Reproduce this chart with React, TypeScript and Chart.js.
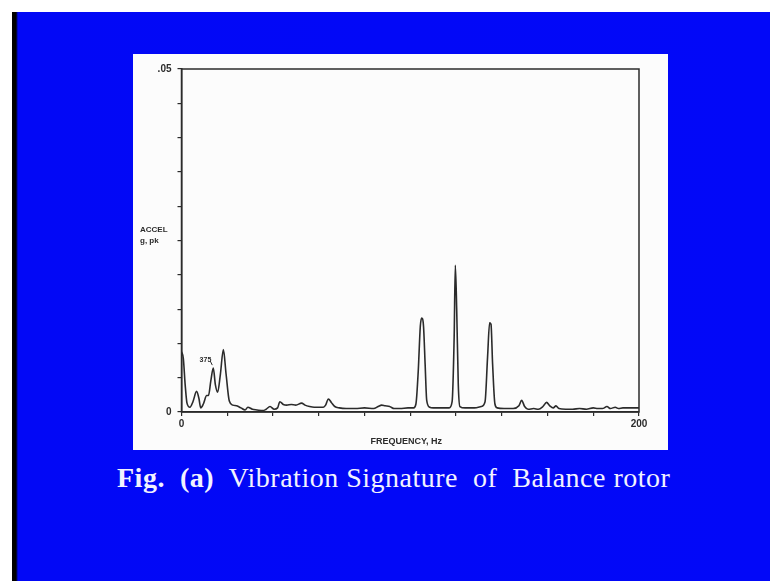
import React, { useEffect, useRef } from "react";
import { Chart, registerables } from "chart.js";

Chart.register(...registerables);

// Frequency (Hz) and acceleration (g, pk)
const freqHz: number[] = [
  0, 0.8, 1.6, 2.4, 3.7, 5, 6.6, 7.6, 8.4, 9.6, 11, 11.8, 12.8, 13.9, 14.8, 15.8, 17, 18.3, 19.5, 20.9, 22.5, 24.1,
  26, 27.8, 29, 31, 33, 35.6, 37, 38.7, 40.5, 42, 43, 44.5, 46, 48, 50, 52.5, 54, 56, 58, 60.5, 62, 63, 64.2, 65.5,
  67, 69, 72, 76, 80, 84, 86, 87.5, 89, 91, 93, 95.5, 99, 101.5,
  102.5, 103.5, 104.4, 105, 105.8, 106.5, 107.2, 108.5, 110, 114, 117,
  118.3, 119.2, 119.7, 120.3, 121, 121.7, 124, 128, 131, 132.7, 133.8, 134.7, 135.3, 136, 137, 138, 141, 145,
  147.5, 148.7, 150, 151.5, 154, 156, 158, 159.6, 161, 162.5, 163.7, 165, 168, 171, 174, 177, 180, 182, 184,
  186, 187.5, 189.6, 191, 193, 196, 200,
];
const accelG: number[] = [
  0.0088, 0.0078, 0.004, 0.0013, 0.0007, 0.0015, 0.003, 0.002, 0.0006, 0.0012, 0.0024, 0.0024, 0.0045, 0.0064, 0.004,
  0.0029, 0.0055, 0.0091, 0.0055, 0.0016, 0.001, 0.0009,
  0.0006, 0.0003, 0.0007, 0.0004, 0.0003, 0.0002, 0.0004, 0.0008, 0.0004, 0.0006, 0.0015, 0.0011, 0.001, 0.0011,
  0.001, 0.0013, 0.001, 0.0008, 0.0007, 0.0007, 0.0007, 0.001, 0.0019, 0.0014,
  0.0008, 0.0006, 0.0005, 0.0005, 0.0006, 0.0005, 0.0008, 0.001, 0.0009, 0.0008, 0.0005, 0.0005, 0.0006, 0.0006,
  0.0012, 0.006, 0.0125, 0.0137, 0.0125, 0.007, 0.0017, 0.0007, 0.0006, 0.0006, 0.0006,
  0.0015, 0.011, 0.0214, 0.015, 0.004, 0.0008, 0.0006, 0.0006, 0.0008, 0.0015, 0.008, 0.013, 0.0128, 0.007, 0.0012,
  0.0006, 0.0005, 0.0005,
  0.0009, 0.0017, 0.0008, 0.0004, 0.0005, 0.0004, 0.0008, 0.0014, 0.0009, 0.0006, 0.0009, 0.0005, 0.0004, 0.0004,
  0.0005, 0.0004, 0.0006, 0.0005, 0.0005,
  0.0008, 0.0005, 0.0007, 0.0005, 0.0006, 0.0006, 0.0006,
];

const xMin = 0;
const xMax = 200;
const xStep = 20;
const yMin = 0;
const yMax = 0.05;
const yStep = 0.005;
const xTickLabels: { value: number; label: string }[] = [
  { value: 0, label: "0" },
  { value: 200, label: "200" },
];
const yTickLabels: { value: number; label: string }[] = [
  { value: 0, label: "0" },
  { value: 0.05, label: ".05" },
];
const yTitleLines: string[] = ["ACCEL", "g, pk"];
const xTitle = "FREQUENCY, Hz";
const peakNote = { freq: 13.9, accel: 0.0064, text: "375" };
const caption = { bold: "Fig.  (a)", rest: "  Vibration Signature  of  Balance rotor" };

const INK = "#2b2b2b";

const framePlugin = {
  id: "frame",
  afterDraw(chart: any) {
    const { ctx, chartArea: a, scales } = chart;
    ctx.save();
    ctx.strokeStyle = INK;
    ctx.lineWidth = 1.5;
    ctx.strokeRect(a.left, a.top, a.right - a.left, a.bottom - a.top);

    ctx.fillStyle = INK;
    ctx.textBaseline = "middle";
    ctx.textAlign = "left";
    ctx.font = "bold 8px 'Liberation Sans', Arial, sans-serif";
    ctx.fillText(yTitleLines[0], 7, 175.5);
    ctx.fillText(yTitleLines[1], 7, 187);

    ctx.textAlign = "center";
    ctx.font = "bold 9px 'Liberation Sans', Arial, sans-serif";
    ctx.fillText(xTitle, (a.left + a.right) / 2 - 4, a.bottom + 30);

    const px = scales.x.getPixelForValue(peakNote.freq);
    const py = scales.y.getPixelForValue(peakNote.accel);
    ctx.font = "bold 7px 'Liberation Sans', Arial, sans-serif";
    ctx.textAlign = "right";
    ctx.fillText(peakNote.text, px - 2, py - 8);
    ctx.lineWidth = 1;
    ctx.beginPath();
    ctx.moveTo(px - 3, py - 7);
    ctx.lineTo(px - 1, py - 3);
    ctx.stroke();
    ctx.restore();
  },
};

export default function App() {
  const ref = useRef<HTMLCanvasElement | null>(null);

  useEffect(() => {
    if (!ref.current) return;
    const points = freqHz.map((f, i) => ({ x: f, y: accelG[i] }));
    const chart = new Chart(ref.current, {
      type: "line",
      data: {
        datasets: [
          {
            data: points,
            borderColor: INK,
            borderWidth: 1.6,
            pointRadius: 0,
            cubicInterpolationMode: "monotone",
            fill: false,
          },
        ],
      },
      options: {
        animation: false,
        responsive: false,
        events: [],
        layout: { padding: { top: 15, right: 29, left: 0, bottom: 0 } },
        plugins: { legend: { display: false }, tooltip: { enabled: false }, title: { display: false } },
        scales: {
          x: {
            type: "linear",
            min: xMin,
            max: xMax,
            afterFit: (s: any) => {
              s.height = 38;
            },
            ticks: {
              stepSize: xStep,
              maxRotation: 0,
              autoSkip: false,
              padding: 2,
              color: INK,
              font: { family: "'Liberation Sans', Arial, sans-serif", size: 10, weight: "bold" },
              callback: (v: any) => {
                const hit = xTickLabels.find((t) => Math.abs(t.value - Number(v)) < 1e-9);
                return hit ? hit.label : "";
              },
            },
            grid: { drawOnChartArea: false, drawTicks: true, tickLength: 4, color: INK, lineWidth: 1.2 },
            border: { display: true, color: INK, width: 1.5 },
          },
          y: {
            type: "linear",
            min: yMin,
            max: yMax,
            afterFit: (s: any) => {
              s.width = 48.5;
            },
            ticks: {
              stepSize: yStep,
              autoSkip: false,
              padding: 6,
              color: INK,
              font: { family: "'Liberation Sans', Arial, sans-serif", size: 10, weight: "bold" },
              callback: (v: any) => {
                const hit = yTickLabels.find((t) => Math.abs(t.value - Number(v)) < 1e-9);
                return hit ? hit.label : "";
              },
            },
            grid: { drawOnChartArea: false, drawTicks: true, tickLength: 4, color: INK, lineWidth: 1.2 },
            border: { display: true, color: INK, width: 1.5 },
          },
        },
      },
      plugins: [framePlugin],
    } as any);
    return () => chart.destroy();
  }, []);

  return (
    <div style={{ position: "fixed", left: 0, top: 0, width: 770, height: 581, overflow: "hidden", background: "#ffffff" }}>
      <div
        style={{
          position: "absolute",
          left: 12,
          top: 12,
          width: 758,
          height: 569,
          background: "linear-gradient(to right, #000 0px, #000 4px, #0208f6 6px, #0208f8 100%)",
        }}
      />
      <div style={{ position: "absolute", left: 133, top: 54, width: 535, height: 396, background: "#fcfcfc" }}>
        <canvas ref={ref} width={535} height={396} style={{ display: "block", width: 535, height: 396 }} />
      </div>
      <div
        style={{
          position: "absolute",
          left: 117,
          top: 464,
          fontFamily: "'Liberation Serif', 'Times New Roman', serif",
          fontSize: 28,
          lineHeight: "28px",
          letterSpacing: "0.5px",
          color: "#f2f2ff",
          whiteSpace: "pre",
        }}
      >
        <span style={{ fontWeight: "bold" }}>{caption.bold}</span>
        <span>{caption.rest}</span>
      </div>
    </div>
  );
}
